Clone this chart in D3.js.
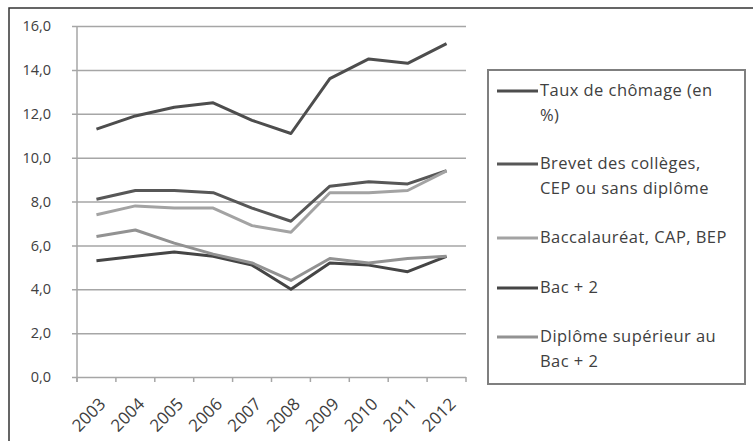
<!DOCTYPE html>
<html>
<head>
    <title>Chomage par diplome</title>
    <style>
        body { margin: 0; background: #fff; }
        text { font-family: 'Open Sans', 'DejaVu Sans', sans-serif; fill: #404040; }
    </style>
    <script src="https://d3js.org/d3.v7.min.js"></script>
</head>
<body>
</body>

<script type="text/javascript">

    // data
    var years = ['2003', '2004', '2005', '2006', '2007', '2008', '2009', '2010', '2011', '2012'];
    var yTicks = [0, 2, 4, 6, 8, 10, 12, 14, 16];

    var taux     = [11.3, 11.9, 12.3, 12.5, 11.7, 11.1, 13.6, 14.5, 14.3, 15.2];
    var brevet   = [8.1, 8.5, 8.5, 8.4, 7.7, 7.1, 8.7, 8.9, 8.8, 9.4];
    var bac      = [7.4, 7.8, 7.7, 7.7, 6.9, 6.6, 8.4, 8.4, 8.5, 9.4];
    var bac2     = [5.3, 5.5, 5.7, 5.5, 5.1, 4.0, 5.2, 5.1, 4.8, 5.5];
    var superieur = [6.4, 6.7, 6.1, 5.6, 5.2, 4.4, 5.4, 5.2, 5.4, 5.5];

    var seriesNames = ['Taux de chômage (en %)', 'Brevet des collèges, CEP ou sans diplôme',
        'Baccalauréat, CAP, BEP', 'Bac + 2', 'Diplôme supérieur au Bac + 2'];

    // legend labels wrap like the original
    var legendLines = [['Taux de chômage (en', '%)'], ['Brevet des collèges,', 'CEP ou sans diplôme'],
        ['Baccalauréat, CAP, BEP'], ['Bac + 2'], ['Diplôme supérieur au', 'Bac + 2']];

    var series = [
        {name: seriesNames[0], values: taux, color: '#4d4d4d'},
        {name: seriesNames[1], values: brevet, color: '#575757'},
        {name: seriesNames[2], values: bac, color: '#a3a3a3'},
        {name: seriesNames[3], values: bac2, color: '#454545'},
        {name: seriesNames[4], values: superieur, color: '#929292'}
    ];

    var svg = d3.select('body')
                    .append('svg')
                    .attr('width', 753)
                    .attr('height', 441);

    // outer chart frame
    svg.append('rect')
        .attr('x', 9).attr('y', 8)
        .attr('width', 780).attr('height', 460)
        .style('fill', 'none')
        .style('stroke', '#333')
        .style('stroke-width', 1.5);

    var x = d3.scaleBand().domain(years).range([77, 466]);
    var y = d3.scaleLinear().domain([0, 16]).range([377, 26]);

    // gridlines + y labels
    var yAxis = svg.append('g')
        .attr('transform', 'translate(77,0)')
        .call(d3.axisLeft(y)
            .tickValues(yTicks)
            .tickSize(0)
            .tickPadding(26)
            .tickFormat(function(d) { return d.toFixed(1).replace('.', ','); }));
    yAxis.select('.domain').remove();
    yAxis.selectAll('text').style('font-size', '14.5px');
    yAxis.selectAll('.tick').append('line')
        .attr('x1', -5).attr('x2', 466 - 77)
        .style('stroke', '#a6a6a6')
        .style('stroke-width', 1.5);

    // vertical axis line
    svg.append('line')
        .attr('x1', 77).attr('x2', 77)
        .attr('y1', y(16)).attr('y2', y(0) + 5)
        .style('stroke', '#a6a6a6')
        .style('stroke-width', 1.5);

    // category boundary ticks
    var bounds = years.map(function(d) { return x(d); }).concat([x.range()[1]]);
    svg.selectAll('.xtick')
        .data(bounds)
        .enter()
        .append('line')
        .attr('class', 'xtick')
        .attr('x1', function(d) { return d; })
        .attr('x2', function(d) { return d; })
        .attr('y1', y(0))
        .attr('y2', y(0) + 5)
        .style('stroke', '#a6a6a6')
        .style('stroke-width', 1.5);

    // x labels, rotated
    svg.selectAll('.xlabel')
        .data(years)
        .enter()
        .append('text')
        .attr('class', 'xlabel')
        .attr('transform', function(d) {
            return 'translate(' + (x(d) + x.bandwidth() / 2 + 6) + ',' + (y(0) + 24) + ') rotate(-45)';
        })
        .attr('text-anchor', 'end')
        .attr('dy', '0.35em')
        .style('font-size', '17px')
        .text(function(d) { return d; });

    // lines
    var line = d3.line()
        .x(function(d, i) { return x(years[i]) + x.bandwidth() / 2; })
        .y(function(d) { return y(d); });

    svg.selectAll('.serie')
        .data(series)
        .enter()
        .append('path')
        .attr('class', 'serie')
        .attr('d', function(d) { return line(d.values); })
        .style('fill', 'none')
        .style('stroke', function(d) { return d.color; })
        .style('stroke-width', 3)
        .style('stroke-linejoin', 'round');

    // legend
    var legend = svg.append('g');
    legend.append('rect')
        .attr('x', 488).attr('y', 70)
        .attr('width', 257).attr('height', 314)
        .style('fill', '#fff')
        .style('stroke', '#7f7f7f')
        .style('stroke-width', 2);

    var itemY = [90, 163, 237, 287, 336];
    var items = legend.selectAll('.item')
        .data(series)
        .enter()
        .append('g')
        .attr('class', 'item')
        .attr('transform', function(d, i) { return 'translate(0,' + itemY[i] + ')'; });

    items.append('line')
        .attr('x1', 497).attr('x2', 538)
        .attr('y1', 1).attr('y2', 1)
        .style('stroke', function(d) { return d.color; })
        .style('stroke-width', 3);

    // each legend row is its own text so rows never overlap
    items.selectAll('text')
        .data(function(d, i) { return legendLines[i]; })
        .enter()
        .append('text')
        .attr('x', 540)
        .attr('y', function(d, j) { return j * 25; })
        .attr('dy', '0.35em')
        .style('font-size', '16.5px')
        .style('letter-spacing', '0.45px')
        .text(function(d) { return d; });

</script>
</html>
